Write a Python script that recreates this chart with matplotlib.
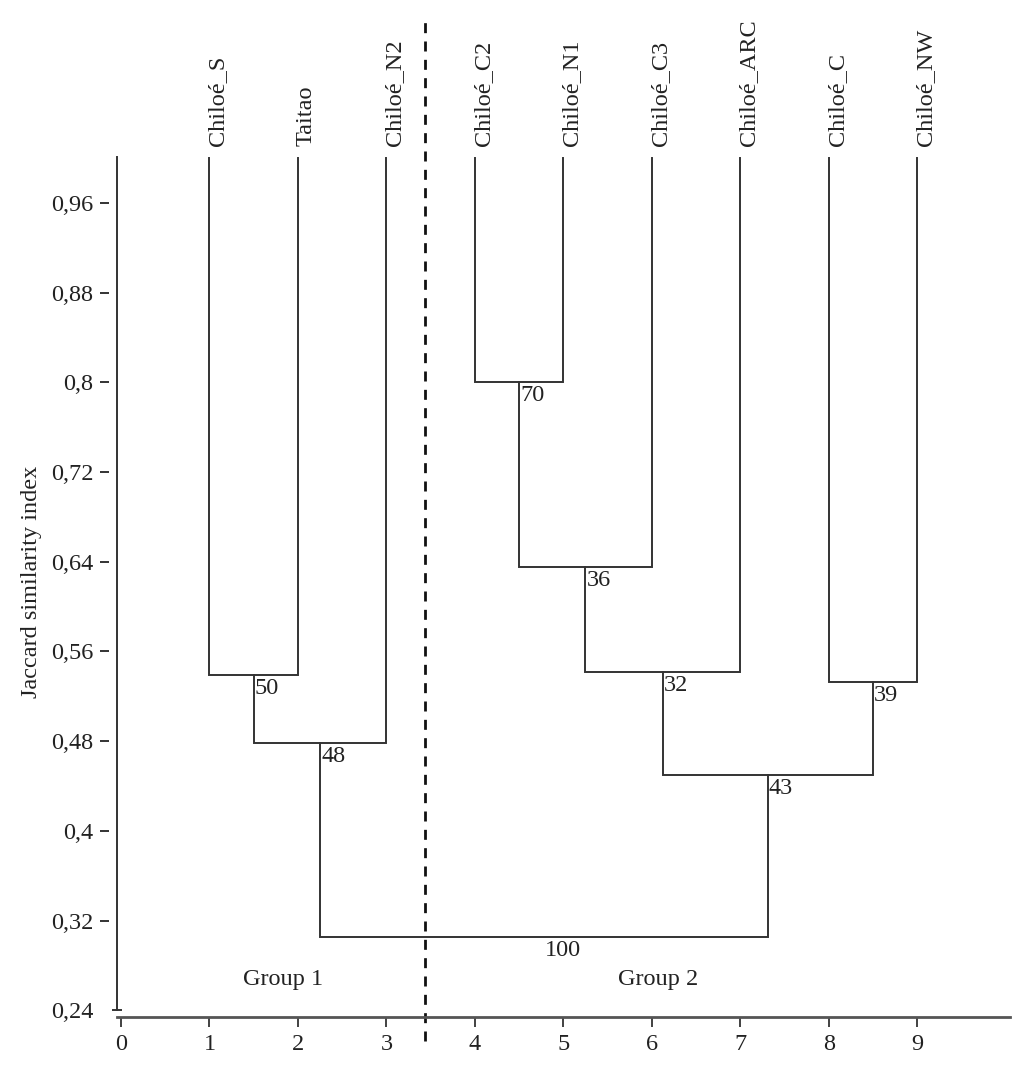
import matplotlib
matplotlib.use("Agg")
import matplotlib.pyplot as plt
import matplotlib.transforms as mtransforms

plt.rcParams['font.family'] = ['Liberation Serif', 'DejaVu Serif']

LEAVES = ["Chiloé_S", "Taitao", "Chiloé_N2", "Chiloé_C2", "Chiloé_N1",
          "Chiloé_C3", "Chiloé_ARC", "Chiloé_C", "Chiloé_NW"]
LEAF_X = [1, 2, 3, 4, 5, 6, 7, 8, 9]
LEAF_TOP = 1.0
# (left cluster, right cluster, similarity, support); ids >= 9 are merges in order
MERGES = [
    (0, 1, 0.539, "50"),
    (9, 2, 0.478, "48"),
    (3, 4, 0.800, "70"),
    (11, 5, 0.635, "36"),
    (12, 6, 0.542, "32"),
    (7, 8, 0.533, "39"),
    (13, 14, 0.450, "43"),
    (10, 15, 0.305, "100"),
]
Y_TICKS = [0.96, 0.88, 0.8, 0.72, 0.64, 0.56, 0.48, 0.4, 0.32, 0.24]
Y_TICK_LABELS = ["0,96", "0,88", "0,8", "0,72", "0,64", "0,56", "0,48", "0,4", "0,32", "0,24"]
GROUP_SPLIT = 3.44
GROUPS = [("Group 1", 1.83), ("Group 2", 6.07)]
GROUP_Y = 0.267

LINE = "#333333"
TXT = "#222222"
FS = 17.5

fig = plt.figure(figsize=(10.24, 10.65), dpi=100)
ax = fig.add_axes([0.1143, 0.0451, 0.872, 0.8075])
ax.set_xlim(-0.045, 10.05)
ax.set_ylim(0.234, 1.001)

xs = list(LEAF_X)
hs = [LEAF_TOP] * len(LEAF_X)
below = mtransforms.offset_copy(ax.transData, fig=fig, x=1, y=-3, units='dots')
for a, b, h, lab in MERGES:
    xa, xb = xs[a], xs[b]
    ax.plot([xa, xa, xb, xb], [hs[a], h, h, hs[b]], color=LINE, lw=1.4,
            solid_joinstyle='miter')
    xm = (xa + xb) / 2
    ax.text(xm, h, lab, transform=below, ha='left', va='top', fontsize=FS, color=TXT)
    xs.append(xm)
    hs.append(h)

above = mtransforms.offset_copy(ax.transData, fig=fig, x=-2, y=12, units='dots')
for name, x in zip(LEAVES, LEAF_X):
    ax.text(x, LEAF_TOP, name, transform=above, rotation=90, ha='left', va='bottom',
            fontsize=FS, color=TXT, clip_on=False)

ax.plot([GROUP_SPLIT, GROUP_SPLIT], [0.213, 1.123], color="#111111", lw=2.0,
        dashes=(3.6, 3.0), clip_on=False)

for name, x in GROUPS:
    ax.text(x, GROUP_Y, name, ha='center', va='center', fontsize=FS, color=TXT)

for s in ['top', 'right']:
    ax.spines[s].set_visible(False)
ax.spines['left'].set_color(LINE)
ax.spines['left'].set_linewidth(1.4)
ax.spines['left'].set_bounds(0.24, 1.001)
ax.spines['bottom'].set_color("#555555")
ax.spines['bottom'].set_linewidth(2.0)

ax.set_xticks(range(10))
ax.tick_params(axis='x', direction='out', length=7, width=1.3, color=LINE,
               labelsize=FS, labelcolor=TXT, pad=5)

ax.set_yticks(Y_TICKS)
ax.set_yticklabels(Y_TICK_LABELS)
ax.tick_params(axis='y', length=0, pad=17, labelsize=FS, labelcolor=TXT)
ymark = mtransforms.blended_transform_factory(ax.transAxes, ax.transData)
ax.hlines(Y_TICKS[:-1], -0.019, -0.009, transform=ymark, color=LINE, lw=1.4, clip_on=False)
ax.hlines(Y_TICKS[-1:], -0.006, 0.006, transform=ymark, color=LINE, lw=1.4, clip_on=False)

ax.set_ylabel("Jaccard similarity index", fontsize=FS, color=TXT)
ax.yaxis.set_label_coords(-0.084, 0.506)

fig.savefig("out.png", dpi=100)
